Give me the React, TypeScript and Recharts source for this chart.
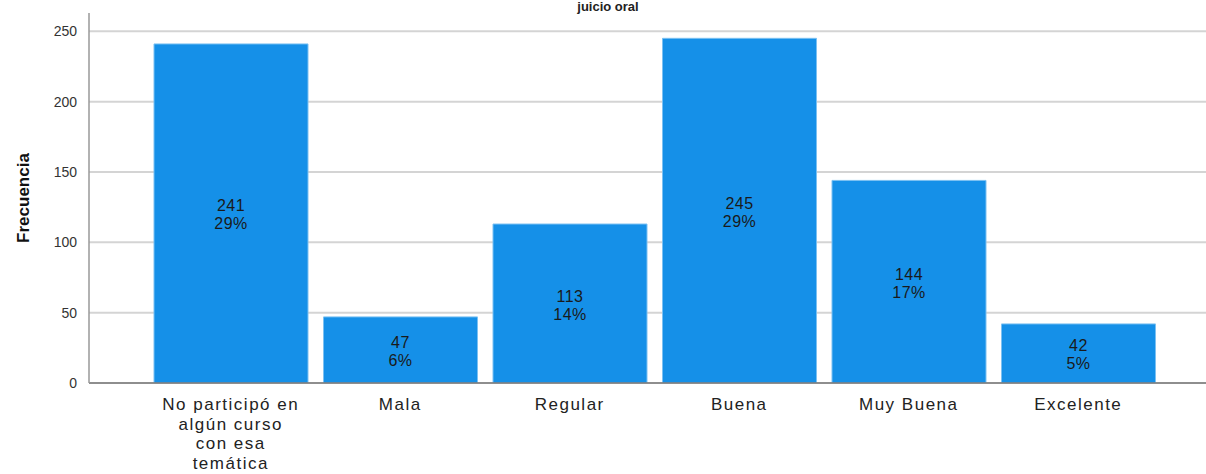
import React from "react";
import { BarChart, Bar, XAxis, YAxis, CartesianGrid, LabelList } from "recharts";

const categories = ["No participó en algún curso con esa temática", "Mala", "Regular", "Buena", "Muy Buena", "Excelente"];
const categoryLines = [["No participó en", "algún curso", "con esa", "temática"], ["Mala"], ["Regular"], ["Buena"], ["Muy Buena"], ["Excelente"]];
const frequencies = [241, 47, 113, 245, 144, 42];
const percents = ["29%", "6%", "14%", "29%", "17%", "5%"];
const yTicks = [0, 50, 100, 150, 200, 250];

const data = categories.map((c, i) => ({ name: c, idx: i, value: frequencies[i], pct: percents[i] }));

const FONT = "'Liberation Sans', Arial, sans-serif";

const XTick = (props: any) => {
  const { x, y, payload } = props;
  const lines = categoryLines[payload.index] || [String(payload.value)];
  return (
    <text x={x} y={y} textAnchor="middle" fontFamily={FONT} fontSize={17} letterSpacing={1.5} fill="#222">
      {lines.map((l: string, i: number) => (
        <tspan key={i} x={x} dy={i === 0 ? 19 : 19.5}>{l}</tspan>
      ))}
    </text>
  );
};

const BarLabel = (props: any) => {
  const { x, y, width, height, index } = props;
  const cx = x + width / 2;
  const cy = y + height / 2;
  return (
    <text x={cx} textAnchor="middle" fontFamily={FONT} fontSize={16} letterSpacing={0.5} fill="#1a1a1a">
      <tspan x={cx} y={cy - 2}>{frequencies[index]}</tspan>
      <tspan x={cx} y={cy + 16}>{percents[index]}</tspan>
    </text>
  );
};

export default function App() {
  return (
    <div style={{ position: "absolute", left: 0, top: 0, width: 1206, height: 474, background: "#fff" }}>
      <svg width={1206} height={474} style={{ position: "absolute", left: 0, top: 0 }}>
        <text x={608} y={11} textAnchor="middle" fontFamily={FONT} fontSize={13} fontWeight="bold" fill="#222">juicio oral</text>
        <text transform="translate(29,198) rotate(-90)" textAnchor="middle" fontFamily={FONT} fontSize={17} fontWeight="bold" fill="#111">Frecuencia</text>
      </svg>
      <BarChart
        width={1206}
        height={474}
        data={data}
        margin={{ top: 13, right: 0, bottom: 0, left: 0 }}
        barCategoryGap={8}
        style={{ position: "absolute", left: 0, top: 0 }}
      >
        <CartesianGrid horizontal vertical={false} horizontalValues={yTicks} stroke="#d4d4d4" strokeWidth={2} />
        <XAxis
          dataKey="name"
          interval={0}
          padding={{ left: 57, right: 43 }}
          tick={<XTick />}
          tickLine={false}
          axisLine={{ stroke: "#777", strokeWidth: 1.5 }}
          height={91}
        />
        <YAxis
          width={89}
          domain={[0, 263]}
          ticks={yTicks}
          allowDataOverflow
          tickLine={false}
          axisLine={{ stroke: "#999", strokeWidth: 1.5 }}
          tick={{ fontFamily: FONT, fontSize: 14, fill: "#333", dx: -4 }}
        />
        <Bar dataKey="value" fill="#1590E8" stroke="#7cc1f2" strokeWidth={1} isAnimationActive={false}>
          <LabelList dataKey="value" content={<BarLabel />} />
        </Bar>
      </BarChart>
    </div>
  );
}
